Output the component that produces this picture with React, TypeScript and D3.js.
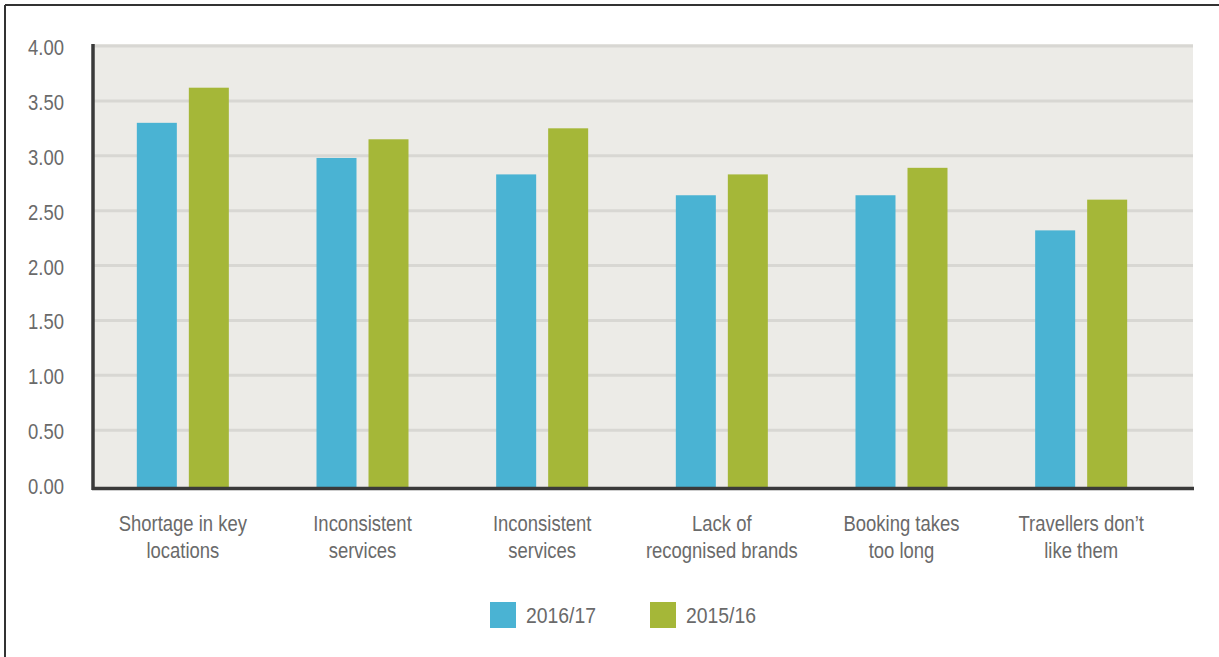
import React from "react";
import * as d3 from "d3";

const categories: string[][] = [
  ["Shortage in key", "locations"],
  ["Inconsistent", "services"],
  ["Inconsistent", "services"],
  ["Lack of", "recognised brands"],
  ["Booking takes", "too long"],
  ["Travellers don\u2019t", "like them"],
];
const seriesNames = ["2016/17", "2015/16"];
const values2016_17 = [3.3, 2.98, 2.83, 2.64, 2.64, 2.32];
const values2015_16 = [3.62, 3.15, 3.25, 2.83, 2.89, 2.6];
const yTicks = [0, 0.5, 1, 1.5, 2, 2.5, 3, 3.5, 4];
const colors = ["#4AB3D3", "#A5B738"];

const W = 1219;
const H = 657;
const plotLeft = 93;
const plotRight = 1193;
const plotTop = 44;
const FONT = "'Liberation Sans', Arial, sans-serif";
const TEXT = "#6a6a6a";
const SX = 0.84;

export default function App() {
  const series = [values2016_17, values2015_16];
  const idx = categories.map((_, i) => String(i));
  const y = d3.scaleLinear().domain([0, 4]).range([485, 46]);
  const x0 = d3.scaleBand<string>().domain(idx).range([plotLeft, 1171]).padding(0);
  const x1 = d3
    .scaleBand<string>()
    .domain(seriesNames)
    .range([-46, 46])
    .paddingInner(12 / 52)
    .paddingOuter(0);

  const legendStart = 490;
  const legendStep = 160;

  return (
    <svg
      width={W}
      height={H}
      style={{ position: "absolute", left: 0, top: 0, background: "#ffffff" }}
    >
      <rect x={0} y={0} width={W} height={H} fill="#ffffff" />
      {/* frame */}
      <line x1={5} y1={5} x2={W} y2={5} stroke="#333" strokeWidth={2} />
      <line x1={5} y1={5} x2={5} y2={H} stroke="#333" strokeWidth={2} />

      {/* plot background */}
      <rect
        x={plotLeft}
        y={plotTop}
        width={plotRight - plotLeft}
        height={y(0) - plotTop + 2}
        fill="#ECEBE7"
      />
      {yTicks
        .filter((t) => t > 0)
        .map((t) => (
          <line
            key={"g" + t}
            x1={plotLeft}
            x2={plotRight}
            y1={y(t)}
            y2={y(t)}
            stroke="#D8D7D3"
            strokeWidth={3}
          />
        ))}

      {/* bars */}
      {categories.map((_, i) => {
        const cx = (x0(String(i)) as number) + x0.bandwidth() / 2;
        return seriesNames.map((s, j) => {
          const v = series[j][i];
          return (
            <rect
              key={"b" + i + "-" + j}
              x={cx + (x1(s) as number)}
              y={y(v)}
              width={x1.bandwidth()}
              height={y(0) - y(v) + 2}
              fill={colors[j]}
            />
          );
        });
      })}

      {/* axes */}
      <line x1={plotLeft} x2={plotLeft} y1={plotTop} y2={490} stroke="#3a3a3a" strokeWidth={3.5} />
      <line x1={plotLeft - 1} x2={plotRight + 1} y1={488.5} y2={488.5} stroke="#3a3a3a" strokeWidth={3.5} />

      {/* y tick labels */}
      {yTicks.map((t) => (
        <text
          key={"t" + t}
          transform={`translate(64,${y(t) + 9}) scale(${SX},1)`}
          textAnchor="end"
          fontFamily={FONT}
          fontSize={22}
          fill={TEXT}
        >
          {d3.format(".2f")(t)}
        </text>
      ))}

      {/* category labels */}
      {categories.map((lines, i) => {
        const cx = (x0(String(i)) as number) + x0.bandwidth() / 2;
        return (
          <g key={"c" + i} transform={`translate(${cx},531) scale(${SX},1)`}>
            <text textAnchor="middle" fontFamily={FONT} fontSize={22} fill={TEXT}>
              {lines.map((l, k) => (
                <tspan key={k} x={0} y={k * 27.5}>
                  {l}
                </tspan>
              ))}
            </text>
          </g>
        );
      })}

      {/* legend */}
      {seriesNames.map((s, j) => (
        <g key={"l" + s} transform={`translate(${legendStart + j * legendStep},602)`}>
          <rect x={0} y={0} width={26} height={26} fill={colors[j]} />
          <text
            transform={`translate(36,21) scale(${SX + 0.04},1)`}
            fontFamily={FONT}
            fontSize={22}
            fill={TEXT}
          >
            {s}
          </text>
        </g>
      ))}
    </svg>
  );
}
